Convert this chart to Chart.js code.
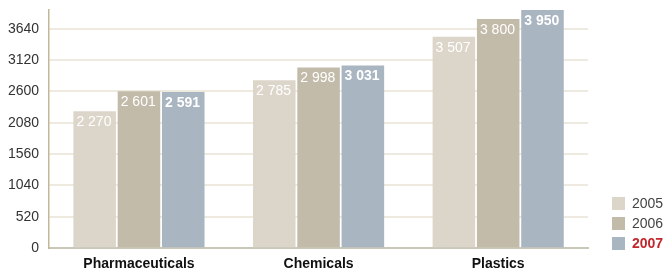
<!DOCTYPE html>
<html>
<head>
<meta charset="utf-8">
<script src="https://cdn.jsdelivr.net/npm/chart.js@4"></script>
<style>
html,body{margin:0;padding:0;background:#fff;}
#wrap{width:665px;height:272px;position:relative;}
</style>
</head>
<body>
<div id="wrap"><canvas id="c" width="665" height="272"></canvas></div>
<script>
const categories = ["Pharmaceuticals", "Chemicals", "Plastics"];
const seriesNames = ["2005", "2006", "2007"];
const values2005 = [2270, 2785, 3507];
const values2006 = [2601, 2998, 3800];
const values2007 = [2591, 3031, 3950];
const yTicks = [0, 520, 1040, 1560, 2080, 2600, 3120, 3640];

const colors = ["#dcd6ca", "#c3bba9", "#a9b5c1"];
const FONT = "'Liberation Sans', Arial, Helvetica, sans-serif";

function fmt(v){ return String(v).replace(/\B(?=(\d{3})+(?!\d))/g, " "); }

const labelPlugin = {
  id: "barLabels",
  afterDatasetsDraw(chart) {
    const ctx = chart.ctx;
    ctx.save();
    chart.data.datasets.forEach((ds, di) => {
      const meta = chart.getDatasetMeta(di);
      meta.data.forEach((bar, i) => {
        const left = bar.x - bar.width / 2;
        ctx.font = (di === 2 ? "bold " : "") + "14px " + FONT;
        ctx.fillStyle = "#ffffff";
        ctx.textAlign = "left";
        ctx.textBaseline = "top";
        ctx.fillText(fmt(ds.data[i]), left + 3, bar.y + 4);
      });
    });
    ctx.restore();
  }
};

const legendPlugin = {
  id: "customLegend",
  afterDraw(chart) {
    const ctx = chart.ctx;
    ctx.save();
    const x = 612, y0 = 197, step = 20;
    seriesNames.forEach((name, i) => {
      const y = y0 + i * step;
      ctx.fillStyle = colors[i];
      ctx.fillRect(x, y, 13, 13);
      ctx.font = (i === 2 ? "bold " : "") + "14px " + FONT;
      ctx.fillStyle = i === 2 ? "#c1272d" : "#444444";
      ctx.textAlign = "left";
      ctx.textBaseline = "middle";
      ctx.fillText(name, x + 20, y + 7);
    });
    ctx.restore();
  }
};

new Chart(document.getElementById("c"), {
  type: "bar",
  data: {
    labels: categories,
    datasets: [
      { label: seriesNames[0], data: values2005, backgroundColor: colors[0] },
      { label: seriesNames[1], data: values2006, backgroundColor: colors[1] },
      { label: seriesNames[2], data: values2007, backgroundColor: colors[2] }
    ]
  },
  options: {
    responsive: false,
    animation: false,
    devicePixelRatio: 1,
    layout: { padding: { left: -2, right: 77, top: 10, bottom: -9 } },
    datasets: { bar: { categoryPercentage: 0.74, barPercentage: 0.96 } },
    plugins: { legend: { display: false }, tooltip: { enabled: false } },
    scales: {
      x: {
        grid: { display: false, drawTicks: false },
        border: { display: true, color: "#c9c7b8", width: 2 },
        ticks: { color: "#111111", font: { family: FONT, size: 14, weight: "bold" }, padding: 8 }
      },
      y: {
        min: 0,
        max: 3950,
        afterBuildTicks(scale) { scale.ticks = yTicks.map(v => ({ value: v })); },
        afterFit(scale) { scale.paddingTop = 0; },
        grid: { color: "#eeeae0", lineWidth: 2, drawTicks: false },
        border: { display: true, color: "#c4b797", width: 1.5 },
        ticks: { color: "#333333", font: { family: FONT, size: 14 }, padding: 10, callback: v => String(v) }
      }
    }
  },
  plugins: [labelPlugin, legendPlugin]
});
</script>
</body>
</html>
